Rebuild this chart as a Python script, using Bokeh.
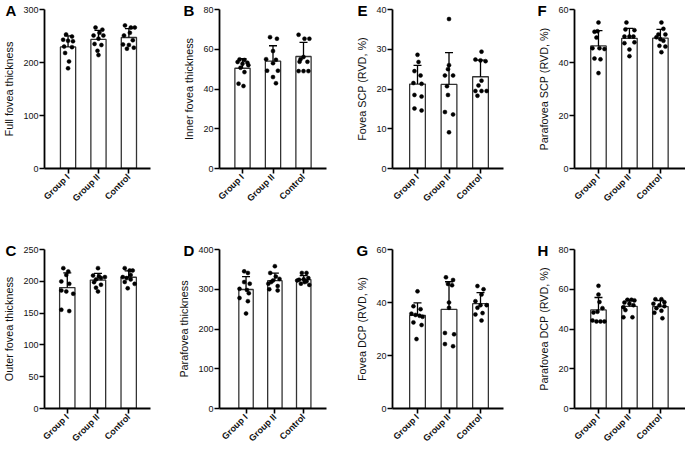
import numpy as np
from bokeh.plotting import figure
from bokeh.layouts import gridplot
from bokeh.models import Range1d, FixedTicker, Whisker, TeeHead, ColumnDataSource
from bokeh.embed import file_html
from bokeh.resources import INLINE

groups = ["Group I", "Group II", "Control"]

# ---- values (one point per eye) ----
A_g1 = [253, 249, 243, 241, 240, 230, 229, 218, 202, 189]
A_g2 = [266, 262, 256, 251, 251, 245, 235, 233, 222, 214]
A_ctrl = [270, 266, 266, 256, 251, 242, 234, 233, 228, 226]

B_g1 = [54.9, 54.6, 53.6, 53.2, 52.7, 52.0, 50.7, 48.5, 42.7, 41.5]
B_g2 = [66.1, 65.3, 59.1, 55.0, 54.7, 53.0, 49.2, 49.2, 46.0, 42.9]
B_ctrl = [67.3, 65.3, 65.3, 56.1, 55.0, 53.7, 53.7, 49.0, 49.0, 49.0]

C_g1 = [220.7, 215.5, 210, 199.8, 196, 185.7, 184, 180.4, 155.3, 153.2]
C_g2 = [220.7, 209, 208, 206.6, 205, 203, 198.7, 194.6, 190, 184]
C_ctrl = [220.7, 217, 217, 210, 206.6, 205, 203, 199, 196, 189]

D_g1 = [345, 341, 318, 314, 301, 298, 290, 278, 270, 239]
D_g2 = [358, 341, 332, 326, 322, 318, 314, 308, 300, 297]
D_ctrl = [341, 341, 328, 325, 324, 322, 320, 318, 314, 311]

E_g1 = [28.6, 26.8, 24.5, 23.4, 21.5, 21.3, 18.5, 18.1, 15.1, 14.6]
E_g2 = [37.6, 26.0, 25.0, 23.4, 23.4, 20.7, 18.5, 14.2, 13.6, 9.1]
E_ctrl = [29.4, 27.4, 27.2, 27.0, 22.1, 20.9, 19.5, 19.5, 19.5, 18.3]

F_g1 = [55.1, 51.8, 51.6, 49.4, 45.4, 45.1, 45.4, 41.5, 41.2, 36.0]
F_g2 = [55.1, 52.5, 52.2, 49.8, 49.8, 49.8, 47.3, 47.6, 44.9, 42.4]
F_ctrl = [55.1, 52.7, 50.6, 50.6, 49.5, 48.8, 48.2, 46.3, 46.0, 43.9]

G_g1 = [44.2, 38.6, 37.5, 35.8, 35.3, 35.0, 34.6, 32.5, 31.5, 26.2]
G_g2 = [49.5, 48.5, 47.0, 46.5, 40.0, 38.0, 28.5, 28.0, 24.3, 23.5]
G_ctrl = [46.2, 45.0, 43.0, 40.5, 39.0, 39.0, 38.0, 36.0, 35.5, 33.2]

H_g1 = [61.7, 57.3, 53.6, 50.5, 48.7, 48.3, 44.3, 43.8, 43.8, 43.8]
H_g2 = [54.7, 54.7, 54.4, 53.3, 52.7, 52.0, 51.0, 49.5, 45.9, 45.9]
H_ctrl = [55.0, 55.0, 53.5, 52.7, 51.9, 51.5, 50.5, 49.2, 48.2, 45.4]

# ---- horizontal scatter of the dots (pixels off the bar centre) ----
A_jit = [[-2, 4, -5, 0, 5, -4, 4, -3, 1, 0], [-3, 4, 1, -5, 5, 0, -4, 3, -1, 0], [-4, 2, 6, 1, -5, 4, -6, 0, 5, -2]]
B_jit = [[-3, 2, -5, 5, 0, 6, -2, 2, -4, 1], [-3, 4, 0, -7, 3, 0, -6, 5, 0, 3], [-5, 1, 6, 0, -3, -4, 4, -5, 0, 5]]
C_jit = [[-4, 1, -1, -6, 2, -6, -1, 6, -6, 2], [0, -5, 1, 7, 3, -2, -4, 3, -2, 0], [-4, 1, 4, 2, -6, -2, 2, -4, 6, -1]]
D_jit = [[-2, 2, -2, 4, -7, 1, 3, -7, 2, 0], [0, -5, 1, 5, -2, -4, -7, 3, -6, 3], [-2, 3, 5, 0, -5, -7, 3, 1, -3, 6]]
E_jit = [[0, 1, -3, 3, -4, 4, -3, 4, -3, 4], [0, 0, -1, -4, 4, -2, -1, -4, 4, 0], [1, -5, 0, 5, 1, -2, -5, 1, 6, -3]]
F_jit = [[0, -1, -4, -2, 1, 6, -6, -4, 2, 0], [-3, -4, 5, -5, 0, 4, -5, 5, 0, 0], [1, 3, -2, 5, -4, 0, 3, -1, 5, 1]]
G_jit = [[0, -4, 3, -6, -2, 2, 5, -4, 4, -1], [-3, 4, -1, 3, 0, 0, -4, 5, -4, 4], [-3, 3, 1, -5, 0, 6, -3, 2, -5, 1]]
H_jit = [[0, 0, 1, 4, -1, -5, -6, -2, 2, 6], [-2, 2, 5, -5, 0, 4, -6, -4, -6, 3], [-5, 1, 4, -7, -1, 4, -4, 1, -6, 2]]

FONT = "Liberation Sans"
PX_PER_GROUP = 31.0


def make_panel(letter, ylabel, yticks, values, jitter, geom, xr, letter_dx):
    W, H, L, R, T, B = geom
    p = figure(width=W, height=H, min_border_left=L, min_border_right=R,
               min_border_top=T, min_border_bottom=B,
               x_range=Range1d(*xr), y_range=Range1d(0, yticks[-1]),
               output_backend="svg", toolbar_location=None, tools="")
    p.outline_line_color = None
    p.grid.visible = False
    p.background_fill_color = "white"
    p.border_fill_color = "white"

    # panel letter as the plot title, pulled left of the frame and down to its top
    p.title.text = letter
    p.title.align = "left"
    p.title.offset = letter_dx
    p.title.standoff = -18
    p.title.text_font = FONT
    p.title.text_font_size = "15px"
    p.title.text_font_style = "bold"
    p.title.text_color = "black"

    xs = [1, 2, 3]
    means = [float(np.mean(v)) for v in values]
    sds = [float(np.std(v, ddof=1)) for v in values]

    src = ColumnDataSource(dict(x=xs, lower=means, upper=[m + s for m, s in zip(means, sds)]))
    p.vbar(x=xs, top=means, bottom=0, width=0.5, fill_color="white",
           line_color="#333333", line_width=1.3)
    p.add_layout(Whisker(source=src, base="x", lower="lower", upper="upper",
                         line_color="black", line_width=1.3, lower_head=None,
                         upper_head=TeeHead(size=8, line_color="black", line_width=1.3),
                         level="glyph"))
    for i, (v, j) in enumerate(zip(values, jitter)):
        p.scatter(x=[xs[i] + o / PX_PER_GROUP for o in j], y=v, size=4,
                  fill_color="black", line_color="black", line_width=0.5)

    ya = p.yaxis[0]
    ya.ticker = FixedTicker(ticks=yticks)
    ya.axis_label = ylabel
    ya.axis_label_text_font = FONT
    ya.axis_label_text_font_size = "10.8px"
    ya.axis_label_text_font_style = "normal"
    ya.axis_label_text_color = "#111111"
    ya.axis_label_standoff = 5
    ya.major_label_text_font = FONT
    ya.major_label_text_font_size = "9px"
    ya.major_label_text_color = "#111111"
    ya.major_label_standoff = 1
    ya.major_tick_out = 5
    ya.major_tick_in = 0
    ya.minor_tick_out = 0
    ya.minor_tick_in = 0
    ya.axis_line_width = 1.8
    ya.major_tick_line_width = 1.6

    xa = p.xaxis[0]
    xa.ticker = FixedTicker(ticks=xs)
    xa.major_label_overrides = {1: groups[0], 2: groups[1], 3: groups[2]}
    xa.major_label_orientation = np.pi / 4
    xa.major_label_text_font = FONT
    xa.major_label_text_font_size = "9px"
    xa.major_label_text_font_style = "bold"
    xa.major_label_text_color = "#111111"
    xa.major_label_standoff = 2
    xa.major_tick_out = 5
    xa.major_tick_in = 0
    xa.minor_tick_out = 0
    xa.minor_tick_in = 0
    xa.axis_line_width = 1.8
    xa.major_tick_line_width = 1.6
    return p


# geometry: (width, height, left, right, top, bottom borders) in page pixels
pA = make_panel("A", "Full fovea thickness", [0, 100, 200, 300], [A_g1, A_g2, A_ctrl], A_jit,
                (170, 225, 42, 20, 8, 57), (0.226, 3.71), -39)
pB = make_panel("B", "Inner fovea thickness", [0, 20, 40, 60, 80], [B_g1, B_g2, B_ctrl], B_jit,
                (170, 225, 49, 14, 8, 57), (0.246, 3.754), -36)
pE = make_panel("E", "Fovea SCP (RVD, %)", [0, 10, 20, 30, 40], [E_g1, E_g2, E_ctrl], E_jit,
                (170, 225, 52, 7, 9, 52), (0.206, 3.73), -35)
pF = make_panel("F", "Parafovea SCP (RVD, %)", [0, 20, 40, 60], [F_g1, F_g2, F_ctrl], F_jit,
                (175, 225, 64, 0, 9, 52), (0.226, 3.81), -37)

pC = make_panel("C", "Outer fovea thickness", [0, 50, 100, 150, 200, 250], [C_g1, C_g2, C_ctrl], C_jit,
                (170, 226, 43, 20, 24, 43), (0.258, 3.71), -39)
pD = make_panel("D", "Parafovea thickness", [0, 100, 200, 300, 400], [D_g1, D_g2, D_ctrl], D_jit,
                (170, 226, 49, 8, 24, 43), (0.08, 3.79), -36)
pG = make_panel("G", "Fovea DCP (RVD, %)", [0, 20, 40, 60], [G_g1, G_g2, G_ctrl], G_jit,
                (170, 226, 52, 7, 24, 38), (0.206, 3.73), -36)
pH = make_panel("H", "Parafovea DCP (RVD, %)", [0, 20, 40, 60, 80], [H_g1, H_g2, H_ctrl], H_jit,
                (175, 226, 64, 0, 24, 38), (0.226, 3.81), -37)

grid = gridplot([[pA, pB, pE, pF], [pC, pD, pG, pH]], toolbar_location=None)

open("out.html", "w").write(file_html(grid, INLINE))
